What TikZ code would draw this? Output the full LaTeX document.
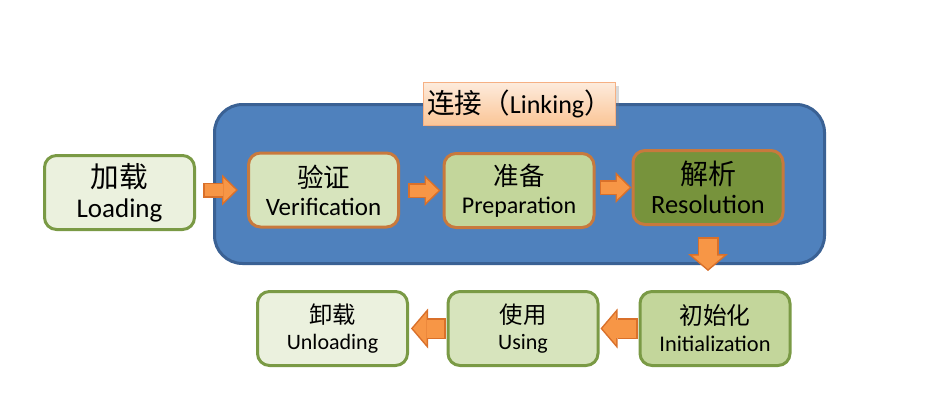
\documentclass[tikz,border=0pt]{standalone}
\usepackage{fontspec}
\setmainfont{Carlito}
\newfontfamily\cjk[Scale=1.06]{Noto Sans CJK SC}
\usepackage{xcolor}
\usepackage{tikz}
\usetikzlibrary{arrows.meta, shadows}

\definecolor{biru}{HTML}{4F81BD}
\definecolor{birugaris}{HTML}{3A6194}
\definecolor{hijaugaris}{HTML}{7A9A45}
\definecolor{hijaua}{HTML}{EBF1DE}
\definecolor{hijaub}{HTML}{D7E4BD}
\definecolor{hijauc}{HTML}{C3D69B}
\definecolor{hijaud}{HTML}{77933C}
\definecolor{tepi}{HTML}{C8793D}
\definecolor{oranye}{HTML}{F79646}
\definecolor{oranyegaris}{HTML}{D9702A}
\definecolor{labelatas}{HTML}{FDEBDC}
\definecolor{labelbawah}{HTML}{FBC596}
\definecolor{labelgaris}{HTML}{F6B083}

\begin{document}
\begin{tikzpicture}[
    x=0.5pt, y=-0.5pt,
    tahap/.style={draw=hijaugaris, line width=1.5pt, rounded corners=6pt,
                  minimum width=75pt, minimum height=37pt, inner sep=0pt, align=center},
    panah/.style={draw=oranyegaris, line width=7.5pt,
                  -{Triangle[length=8pt, width=15.5pt, line width=0pt]}},
    isi/.style={draw=oranye, line width=6pt,
                -{Triangle[length=6.2pt, width=12pt, line width=0pt]}},
    panahbesar/.style={draw=oranyegaris, line width=10.5pt,
                       -{Triangle[length=8.5pt, width=20pt, line width=0pt]}},
    isibesar/.style={draw=oranye, line width=9pt,
                     -{Triangle[length=6.75pt, width=15.9pt, line width=0pt]}}
  ]
    \useasboundingbox (0,0) rectangle (942,412);
    \node[draw=birugaris, fill=biru, line width=1.5pt, rounded corners=14pt,
          minimum width=305pt, minimum height=79.5pt] (link) at (519.5,184) {};
    \node[draw=labelgaris, line width=0.75pt, top color=labelatas, bottom color=labelbawah,
          drop shadow={shadow xshift=1.5pt, shadow yshift=-1.5pt, opacity=0.3},
          minimum width=96pt, minimum height=21.5pt, inner sep=0pt,
          font=\fontsize{13}{15}\selectfont] (judul) at (519.5,104)
      {{\cjk 连接（}Linking{\cjk ）}};

    \node[tahap, fill=hijaua, font=\fontsize{13.5}{15}\selectfont] (load) at (119.5,192.5)
      {{\cjk 加载}\\Loading};
    \node[tahap, draw=tepi, fill=hijaub, font=\fontsize{12.5}{14}\selectfont] (ver) at (323.5,190)
      {{\cjk 验证}\\Verification};
    \node[tahap, draw=tepi, fill=hijauc, font=\fontsize{12}{14}\selectfont] (prep) at (519,190.5)
      {{\cjk 准备}\\Preparation};
    \node[tahap, draw=tepi, fill=hijaud, font=\fontsize{13.2}{14.5}\selectfont] (res) at (708,187.5)
      {{\cjk 解析}\\Resolution};
    \node[tahap, fill=hijauc, font=\fontsize{11.2}{13.5}\selectfont] (init) at (715,328.5)
      {{\cjk 初始化}\\Initialization};
    \node[tahap, fill=hijaub, font=\fontsize{11}{13}\selectfont] (use) at (523,328.5)
      {{\cjk 使用}\\Using};
    \node[tahap, fill=hijaua, font=\fontsize{11}{13}\selectfont] (unload) at (332.5,328.5)
      {{\cjk 卸载}\\Unloading};

    \foreach \a/\b/\s/\e in {load/ver/3.5pt/4.5pt, ver/prep/4pt/1pt, prep/res/2pt/0pt} {
      \draw[panah, shorten <=\s, shorten >=\e] (\b.west -| \a.east) -- (\b.west);
      \draw[isi, shorten <=\s+0.75pt, shorten >=\e+1.1pt] (\b.west -| \a.east) -- (\b.west);
    }
    \draw[panahbesar, shorten <=5.5pt, shorten >=9.5pt] (res.south) -- (res.south |- init.north);
    \draw[isibesar, shorten <=6.25pt, shorten >=10.5pt] (res.south) -- (res.south |- init.north);
    \foreach \a/\b/\s/\e in {init/use/0.5pt/0.5pt, use/unload/0.5pt/1pt} {
      \draw[panahbesar, shorten <=\s, shorten >=\e] (\a.west) -- (\b.east);
      \draw[isibesar, shorten <=\s+0.75pt, shorten >=\e+1pt] (\a.west) -- (\b.east);
    }
  \end{tikzpicture}
\end{document}
